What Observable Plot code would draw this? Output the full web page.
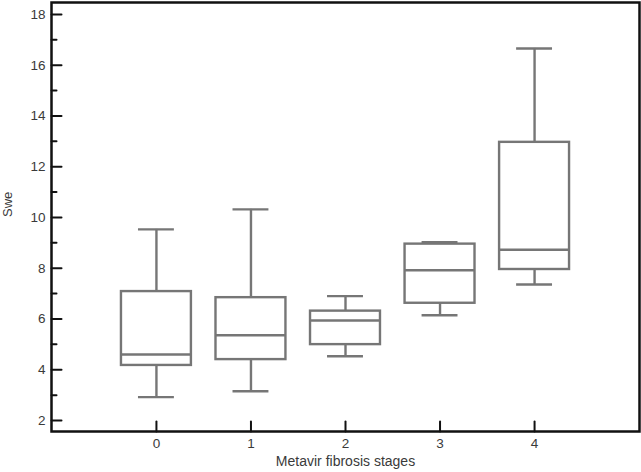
<!DOCTYPE html>
<html>
<head>
<meta charset="utf-8">
<script src="https://cdn.jsdelivr.net/npm/d3@7"></script>
<script src="https://cdn.jsdelivr.net/npm/@observablehq/plot@0.6"></script>
<style>
  html, body { margin: 0; padding: 0; background: #fff; }
</style>
</head>
<body>
<div id="chart"></div>
<script>
const stages      = [0, 1, 2, 3, 4];
const whiskerLow  = [2.92, 3.15, 4.53, 6.15, 7.36];
const q1          = [4.17, 4.40, 4.99, 6.62, 7.95];
const median      = [4.60, 5.36, 5.94, 7.92, 8.73];
const q3          = [7.08, 6.84, 6.31, 8.95, 12.96];
const whiskerHigh = [9.53, 10.32, 6.90, 9.03, 16.66];
const yMajorTicks = [2, 4, 6, 8, 10, 12, 14, 16, 18];
const yMinorTicks = [3, 5, 7, 9, 11, 13, 15, 17];
const xLabel = "Metavir fibrosis stages";
const yLabel = "Swe";

const data = stages.map((s, i) => ({
  stage: s, lo: whiskerLow[i], q1: q1[i], med: median[i], q3: q3[i], hi: whiskerHigh[i]
}));

const xDomain = [-1.11, 5.11];
const yDomain = [1.567, 18.47];
const boxHalf = 0.37;
const capHalf = 0.19;
const boxColor = "#767676";
const boxWidth = 2.4;
const axisColor = "#111";
const textColor = "#3a3a3a";

// plain straight line shape for tick marks
const tickShape = { draw(context, l) { context.moveTo(0, 0); context.lineTo(0, -l); } };

const chart = Plot.plot({
  width: 641,
  height: 472,
  marginLeft: 51,
  marginRight: 2,
  marginTop: 2,
  marginBottom: 41,
  style: { fontFamily: "'Liberation Sans', Arial, sans-serif", fontSize: "13px", color: textColor, background: "#fff" },
  x: { type: "linear", domain: xDomain },
  y: { domain: yDomain },
  marks: [
    // whiskers
    Plot.ruleX(data, { x: "stage", y1: "q3", y2: "hi", stroke: boxColor, strokeWidth: boxWidth }),
    Plot.ruleX(data, { x: "stage", y1: "lo", y2: "q1", stroke: boxColor, strokeWidth: boxWidth }),
    // caps
    Plot.ruleY(data, { y: "hi", x1: d => d.stage - capHalf, x2: d => d.stage + capHalf, stroke: boxColor, strokeWidth: boxWidth }),
    Plot.ruleY(data, { y: "lo", x1: d => d.stage - capHalf, x2: d => d.stage + capHalf, stroke: boxColor, strokeWidth: boxWidth }),
    // boxes
    Plot.rect(data, { x1: d => d.stage - boxHalf, x2: d => d.stage + boxHalf, y1: "q1", y2: "q3", fill: "#fff", stroke: boxColor, strokeWidth: boxWidth }),
    // medians
    Plot.ruleY(data, { y: "med", x1: d => d.stage - boxHalf, x2: d => d.stage + boxHalf, stroke: boxColor, strokeWidth: boxWidth }),
    // inward tick marks
    Plot.vector(yMajorTicks, { x: xDomain[0], y: d => d, length: 10, rotate: 90, anchor: "start", shape: tickShape, stroke: axisColor, strokeWidth: 2 }),
    Plot.vector(yMinorTicks, { x: xDomain[0], y: d => d, length: 5, rotate: 90, anchor: "start", shape: tickShape, stroke: axisColor, strokeWidth: 2 }),
    Plot.vector(stages, { x: d => d, y: yDomain[0], length: 10, rotate: 0, anchor: "start", shape: tickShape, stroke: axisColor, strokeWidth: 2 }),
    // tick labels
    Plot.axisY({ ticks: yMajorTicks, tickSize: 0, tickPadding: 6, label: null, fontSize: 13.5, fill: textColor }),
    Plot.axisX({ ticks: stages, tickSize: 0, tickPadding: 7, label: null, fontSize: 13.5, fill: textColor, tickFormat: d => String(d) }),
    Plot.frame({ stroke: axisColor, strokeWidth: 2.5 }),
    // axis titles
    Plot.text([yLabel], { frameAnchor: "left", dx: -44, rotate: -90, text: d => d, fill: textColor, fontSize: 13 }),
    Plot.text([xLabel], { frameAnchor: "bottom", dy: 34, text: d => d, fill: textColor, fontSize: 14 })
  ]
});
document.getElementById("chart").appendChild(chart);
</script>
</body>
</html>
